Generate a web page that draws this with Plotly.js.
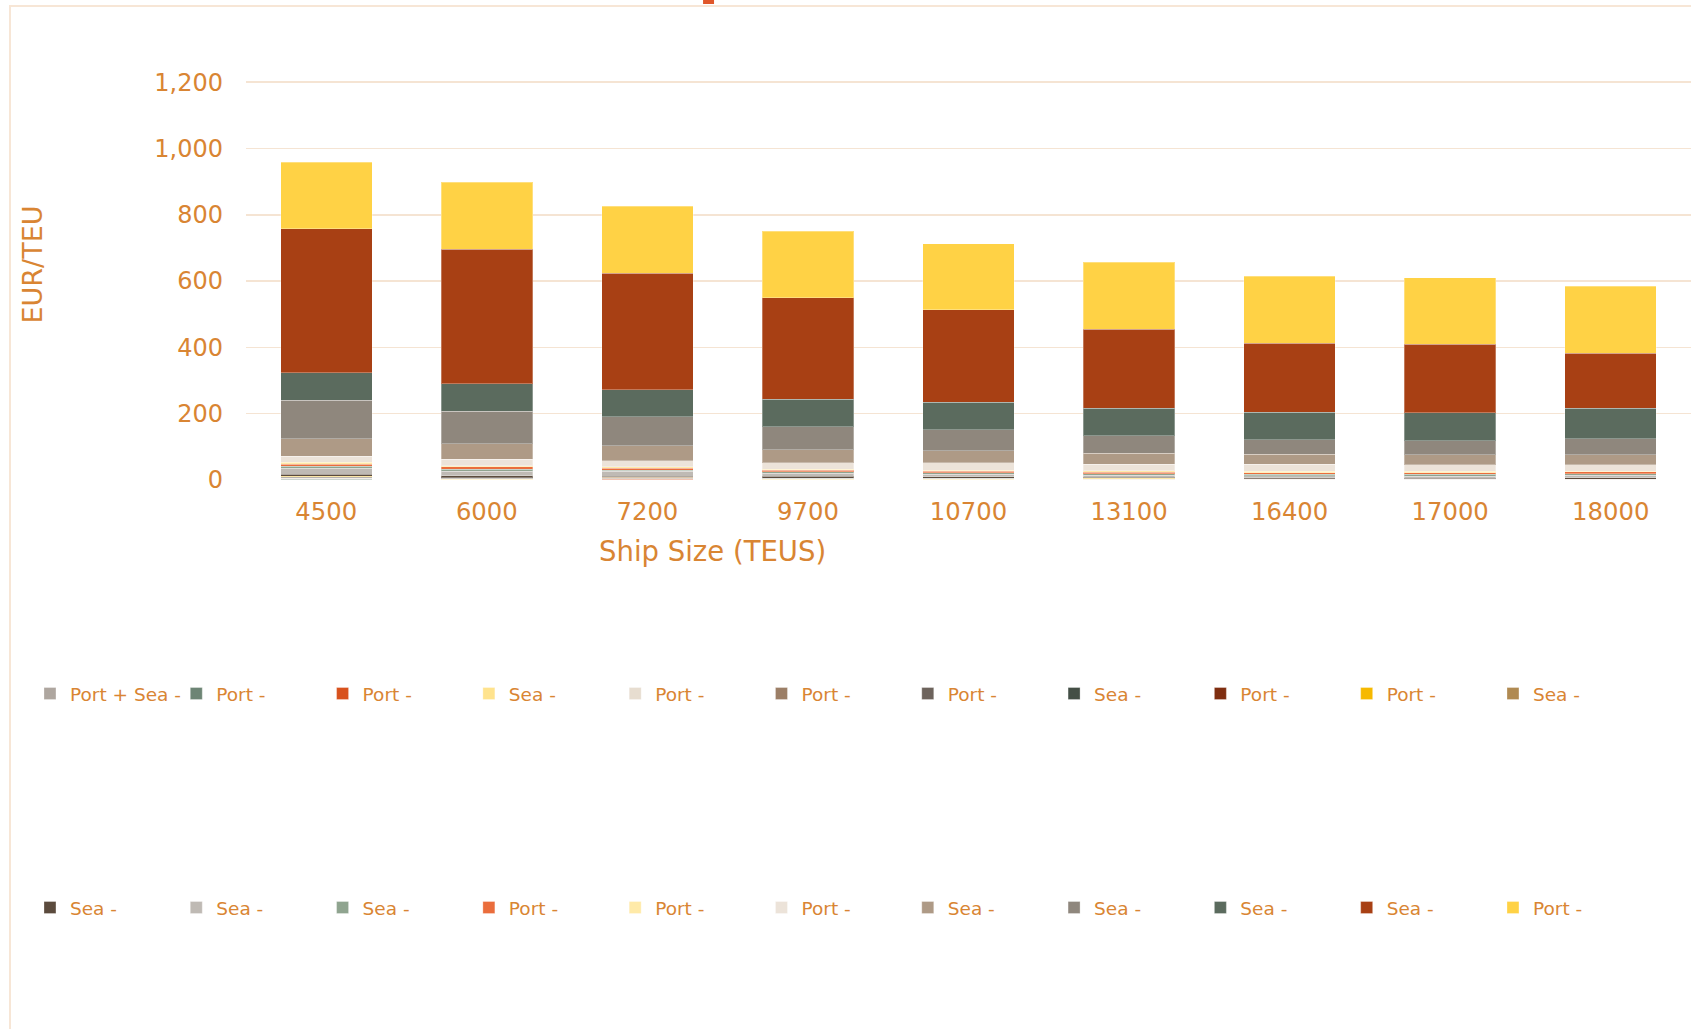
<!DOCTYPE html>
<html>
<head>
<meta charset="utf-8">
<script src="https://cdn.plot.ly/plotly-3.0.1.min.js"></script>
<style>
  html, body { margin: 0; padding: 0; background: #ffffff; overflow: hidden; }
  #frame {
    position: absolute; left: 9px; top: 5px; width: 1720px; height: 1060px;
    border-left: 2px solid #f7e6d6; border-top: 2px solid #f7e6d6;
  }
  #chart { position: absolute; left: 0; top: 0; width: 1691px; height: 1029px; }
</style>
</head>
<body>
<div id="frame"></div>
<div id="chart"></div>
<script>
// Ship sizes on the category axis
const shipSizes = ['4500', '6000', '7200', '9700', '10700', '13100', '16400', '17000', '18000'];

// Cost components, EUR per TEU (stacked bottom to top)
const portSea01 = [1.0, 0.6, 0.7, 0.5, 0.5, 0.4, 0.3, 0.3, 0.3];
const port02    = [1.0, 0.6, 0.6, 0.5, 0.5, 0.4, 0.3, 0.2, 0.2];
const port03    = [0.5, 0.3, 0.3, 0.3, 0.3, 0.2, 0.2, 0.1, 0.1];
const sea04     = [1.0, 0.5, 0.6, 0.4, 0.4, 0.4, 0.3, 0.2, 0.2];
const port05    = [1.5, 0.9, 1.0, 0.8, 0.8, 0.7, 0.5, 0.4, 0.4];
const port06    = [2.0, 1.2, 1.4, 1.0, 1.0, 0.8, 0.7, 0.5, 0.5];
const port07    = [1.0, 0.6, 0.7, 0.5, 0.5, 0.4, 0.3, 0.3, 0.3];
const sea08     = [1.5, 0.9, 1.0, 0.8, 0.8, 0.6, 0.5, 0.4, 0.4];
const port09    = [1.0, 0.6, 0.7, 0.5, 0.5, 0.4, 0.4, 0.2, 0.2];
const port10    = [0.5, 0.3, 0.3, 0.3, 0.3, 0.3, 0.2, 0.1, 0.1];
const sea11     = [1.0, 0.5, 0.7, 0.4, 0.4, 0.4, 0.3, 0.1, 0.1];
const sea12     = [5, 6, 4, 6, 4, 3, 3, 3, 4];
const sea13     = [18, 13, 14, 8, 7, 6, 6, 6, 7];
const sea14     = [6, 6, 4, 5, 5, 5, 4, 5, 5];
const port15    = [6, 8, 6, 4, 5, 5, 5, 5, 6];
const port16    = [7, 3, 4, 4, 3, 4, 4, 5, 2];
const port17    = [17, 20, 18, 19, 22, 19, 21, 19, 19];
const sea18     = [54, 47, 45, 39, 36, 34, 31, 31, 31];
const sea19     = [116, 98, 88, 70, 64, 53, 44, 42, 47];
const sea20     = [82, 82, 81, 83, 83, 83, 83, 84, 93];
const sea21     = [435, 406, 352, 306, 279, 238, 207, 207, 166];
const port22    = [201, 202, 202, 201, 198, 202, 203, 201, 202];

// Legend labels, in stacking order
const seriesNames = [
  'Port + Sea -', 'Port -', 'Port -', 'Sea -', 'Port -', 'Port -', 'Port -', 'Sea -', 'Port -', 'Port -', 'Sea -',
  'Sea -', 'Sea -', 'Sea -', 'Port -', 'Port -', 'Port -', 'Sea -', 'Sea -', 'Sea -', 'Sea -', 'Port -'
];

const seriesValues = [
  portSea01, port02, port03, sea04, port05, port06, port07, sea08, port09, port10, sea11,
  sea12, sea13, sea14, port15, port16, port17, sea18, sea19, sea20, sea21, port22
];

const seriesColors = [
  '#aea69f', '#6d8575', '#d8521d', '#ffe38d', '#e7ddd0', '#9c7f67', '#6d635c', '#444f46', '#7f2e10', '#f6b900', '#b08a52',
  '#5b4b3d', '#bfbab4', '#8fa48f', '#ea6d3c', '#ffeaa8', '#ece3d9', '#ae9a86', '#8f877d', '#5b6b5e', '#a84014', '#ffd245'
];

const ink = '#d98533';
const font = 'DejaVu Sans, Verdana, sans-serif';

const traces = seriesValues.map((vals, i) => ({
  type: 'bar',
  name: seriesNames[i],
  x: shipSizes,
  y: vals,
  legend: i < 11 ? 'legend' : 'legend2',
  marker: {
    color: seriesColors[i],
    line: { color: 'rgba(255,255,255,0.3)', width: 1 }
  },
  hoverinfo: 'x+y+name'
}));

const legendStyle = {
  orientation: 'h',
  xref: 'paper', yref: 'paper',
  x: -0.1495, xanchor: 'left',
  yanchor: 'middle',
  traceorder: 'normal',
  itemwidth: 30,
  entrywidth: 101.3,
  entrywidthmode: 'pixels',
  bgcolor: 'rgba(0,0,0,0)',
  borderwidth: 0,
  font: { family: font, size: 18.5, color: ink }
};

const layout = {
  width: 1691,
  height: 1029,
  margin: { l: 246, r: 0, t: 49, b: 549, autoexpand: false },
  paper_bgcolor: 'rgba(0,0,0,0)',
  plot_bgcolor: 'rgba(0,0,0,0)',
  barmode: 'stack',
  bargap: 0.43,
  showlegend: true,
  legend: Object.assign({}, legendStyle, { y: -0.4965 }),
  legend2: Object.assign({}, legendStyle, { y: -0.993 }),
  xaxis: {
    type: 'category',
    showgrid: false,
    showline: false,
    zeroline: false,
    ticks: '',
    ticklabelstandoff: 15,
    tickfont: { family: font, size: 24.3, color: ink }
  },
  yaxis: {
    range: [0, 1300],
    dtick: 200,
    tick0: 0,
    tickformat: ',d',
    showline: false,
    zeroline: false,
    ticks: '',
    ticklabelstandoff: 22,
    gridcolor: '#f5e4d3',
    gridwidth: 1.6,
    tickfont: { family: font, size: 24, color: ink },
    title: { text: 'EUR/TEU', standoff: 103, font: { family: font, size: 27, color: ink } }
  },
  annotations: [{
    text: 'Ship Size (TEUS)',
    xref: 'paper', yref: 'paper',
    x: 0.3225, y: -0.165,
    xanchor: 'center', yanchor: 'middle',
    showarrow: false,
    font: { family: font, size: 27.5, color: ink }
  }],
  shapes: [{
    type: 'rect', xref: 'paper', yref: 'paper',
    x0: 0.3163, x1: 0.3239, y0: 1.1044, y1: 1.1137,
    fillcolor: '#e0562a', line: { width: 0 }, layer: 'above'
  }]
};

Plotly.newPlot('chart', traces, layout, { displayModeBar: false, staticPlot: true });
</script>
</body>
</html>
